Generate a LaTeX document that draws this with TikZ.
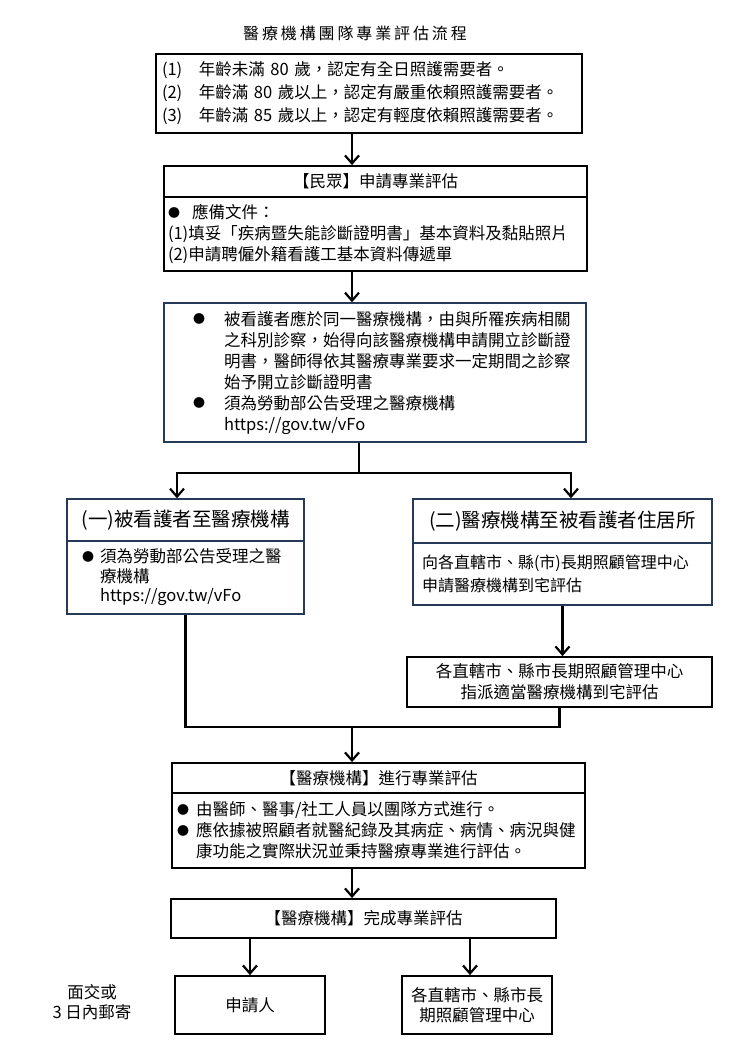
\documentclass[tikz,border=0pt]{standalone}
\usepackage{fontspec}
\setmainfont[Script=CJK, Language=Chinese Traditional]{Noto Sans CJK TC}
\usetikzlibrary{arrows.meta}
\definecolor{boxblue}{RGB}{38,58,88}
\newcommand{\bul}[1]{\makebox[#1][l]{\raisebox{1.2pt}{\fontsize{12}{12}\selectfont●}}}

\begin{document}
\begin{tikzpicture}[x=1pt, y=-1pt,
    box/.style={draw, line width=1.8pt, rectangle, inner sep=0pt},
    bluebox/.style={draw=boxblue, line width=1.4pt, rectangle, inner sep=0pt},
    arr/.style={-{Straight Barb[length=8pt,width=14pt]}, line width=2.2pt},
    lnk/.style={line width=2.2pt},
    body/.style={font=\fontsize{16.5}{21}\selectfont, align=left},
    head/.style={font=\fontsize{16.5}{20}\selectfont, align=center},
    bighead/.style={font=\fontsize{19.5}{22}\selectfont, align=center}
  ]
    \useasboundingbox (0,0) rectangle (750,1060);

    % 標題
    \node[font=\fontsize{16}{18}\selectfont\addfontfeature{LetterSpace=18}] (title) at (355,33) {醫療機構團隊專業評估流程};

    % 申請資格
    \node[box, minimum width=426pt, minimum height=79pt, text width=414pt, inner xsep=6pt,
          font=\fontsize{16.5}{23}\selectfont, align=left] (age) at (369,93.5)
      {\makebox[37pt][l]{(1)}年齡未滿 80 歲，認定有全日照護需要者。\\
       \makebox[37pt][l]{(2)}年齡滿 80 歲以上，認定有嚴重依賴照護需要者。\\
       \makebox[37pt][l]{(3)}年齡滿 85 歲以上，認定有輕度依賴照護需要者。};

    % 民眾申請
    \node[box, minimum width=423pt, minimum height=31pt, head] (applyhead) at (375.5,181.5) {【民眾】申請專業評估};
    \node[box, minimum width=423pt, minimum height=74pt, text width=415pt, inner xsep=4pt, body] (applybody) at (375.5,234)
      {\bul{24pt}應備文件：\\
       (1)填妥「疾病暨失能診斷證明書」基本資料及黏貼照片\\
       (2)申請聘僱外籍看護工基本資料傳遞單};

    % 診斷證明書說明
    \node[bluebox, minimum width=422pt, minimum height=139pt, text width=364pt, inner xsep=29pt, body] (infobox) at (375,372.5)
      {\bul{31pt}被看護者應於同一醫療機構，由與所罹疾病相關\\
       \hspace*{31pt}之科別診察，始得向該醫療機構申請開立診斷證\\
       \hspace*{31pt}明書，醫師得依其醫療專業要求一定期間之診察\\
       \hspace*{31pt}始予開立診斷證明書\\
       \bul{31pt}須為勞動部公告受理之醫療機構\\
       \hspace*{31pt}https://gov.tw/vFo};

    % (一) 被看護者至醫療機構
    \node[bluebox, minimum width=237pt, minimum height=42pt, bighead] (visithead) at (185.5,520) {(一)被看護者至醫療機構};
    \node[bluebox, minimum width=237pt, minimum height=73pt, text width=207pt, inner xsep=15pt,
          font=\fontsize{16.5}{19.5}\selectfont, align=left] (visitbody) at (185.5,577.5)
      {\bul{18pt}須為勞動部公告受理之醫\\
       \hspace*{18pt}療機構\\
       \hspace*{18pt}https://gov.tw/vFo};

    % (二) 醫療機構至被看護者住居所
    \node[bluebox, minimum width=299pt, minimum height=44pt, bighead] (homehead) at (562.5,521) {(二)醫療機構至被看護者住居所};
    \node[bluebox, minimum width=299pt, minimum height=62pt, text width=281pt, inner xsep=9pt,
          font=\fontsize{16}{23}\selectfont, align=left] (homebody) at (562.5,574)
      {向各直轄市、縣(市)長期照顧管理中心\\
       申請醫療機構到宅評估\\[4pt]};

    \node[box, minimum width=305pt, minimum height=50pt, head, font=\fontsize{16.5}{21}\selectfont] (assign) at (559.5,682)
      {各直轄市、縣市長期照顧管理中心\\指派適當醫療機構到宅評估};

    % 醫療機構進行評估
    \node[box, minimum width=413pt, minimum height=30pt, head] (evalhead) at (378.5,778) {【醫療機構】進行專業評估};
    \node[box, minimum width=413pt, minimum height=75pt, text width=403pt, inner xsep=5pt, body] (evalbody) at (378.5,830.5)
      {\bul{19pt}由醫師、醫事/社工人員以團隊方式進行。\\
       \bul{19pt}應依據被照顧者就醫紀錄及其病症、病情、病況與健\\
       \hspace*{19pt}康功能之實際狀況並秉持醫療專業進行評估。};

    % 完成評估
    \node[box, minimum width=385pt, minimum height=39pt, head] (donebox) at (363.5,918.5) {【醫療機構】完成專業評估};
    \node[box, minimum width=150pt, minimum height=58pt, head] (applicant) at (250,1005) {申請人};
    \node[box, minimum width=150pt, minimum height=58pt, head] (center) at (477,1005) {各直轄市、縣市長\\期照顧管理中心};
    \node[head] (deliver) at (92,1002) {面交或\\3 日內郵寄};

    % 箭頭
    \coordinate (trunk) at (352,0);
    \coordinate (split) at (359,473);
    \coordinate (merge) at (352,727);

    \draw[arr] (age.south -| trunk) -- (applyhead.north -| trunk);
    \draw[arr] (applybody.south -| trunk) -- (infobox.north -| trunk);
    \draw[lnk] (infobox.south -| split) -- (split);
    \draw[arr] (split) -| ([xshift=-8.5pt]visithead.north);
    \draw[arr] (split) -| ([xshift=8.5pt]homehead.north);
    \draw[arr] (homebody.south) -- (homebody.south |- assign.north);
    \draw[lnk] (visitbody.south) |- (merge) -| (assign.south);
    \draw[arr] (merge) -- (evalhead.north -| merge);
    \draw[arr] (evalbody.south -| trunk) -- (donebox.north -| trunk);
    \draw[arr] (donebox.south -| applicant.north) -- (applicant.north);
    \draw[arr] ([xshift=-7pt]donebox.south -| center.north) -- ([xshift=-7pt]center.north);
\end{tikzpicture}
\end{document}
